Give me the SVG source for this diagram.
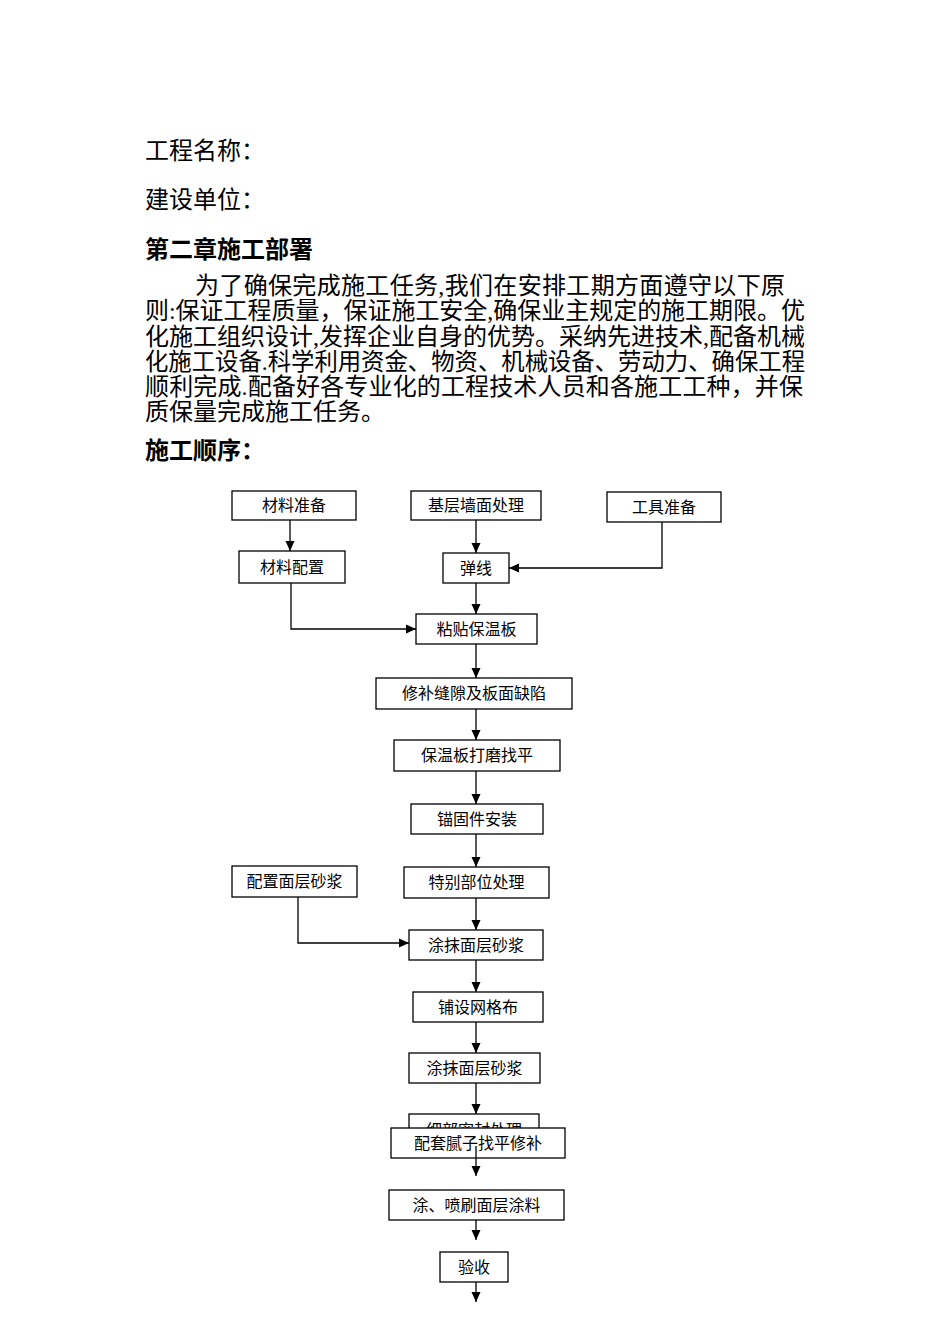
<svg xmlns="http://www.w3.org/2000/svg" width="950" height="1344" viewBox="0 0 950 1344">
<style>
.t{font-family:"Liberation Serif","Noto Sans CJK SC",serif;fill:#000;}
.h{font-size:24px;}
.b{font-size:24px;font-weight:bold;}
.n rect{fill:#fff;stroke:#000;stroke-width:1.3;}
.n text{font-family:"Liberation Serif","Noto Sans CJK SC",serif;font-size:16px;fill:#000;text-anchor:middle;}
.c path{fill:none;stroke:#000;stroke-width:1.3;marker-end:url(#ah);}
</style>
<defs>
<marker id="ah" markerUnits="userSpaceOnUse" markerWidth="11" markerHeight="10" refX="10" refY="5" orient="auto">
<path d="M0,0.5 L10,5 L0,9.5 z" fill="#000"/>
</marker>
<clipPath id="behindClip"><rect x="400" y="1110" width="150" height="18"/></clipPath>
</defs>
<rect width="950" height="1344" fill="#fff"/>
<g id="header">
<text class="t h" x="145" y="159">工程名称：</text>
<text class="t h" x="145" y="208">建设单位：</text>
<text class="t b" x="145" y="258">第二章施工部署</text>
<text class="t h" x="195" y="294" textLength="590" lengthAdjust="spacing">为了确保完成施工任务,我们在安排工期方面遵守以下原</text>
<text class="t h" x="145" y="319" textLength="660" lengthAdjust="spacing">则:保证工程质量，保证施工安全,确保业主规定的施工期限。优</text>
<text class="t h" x="145" y="345" textLength="660" lengthAdjust="spacing">化施工组织设计,发挥企业自身的优势。采纳先进技术,配备机械</text>
<text class="t h" x="145" y="370" textLength="660" lengthAdjust="spacingAndGlyphs">化施工设备.科学利用资金、物资、机械设备、劳动力、确保工程</text>
<text class="t h" x="145" y="395" textLength="658" lengthAdjust="spacing">顺利完成.配备好各专业化的工程技术人员和各施工工种，并保</text>
<text class="t h" x="145" y="420">质保量完成施工任务。</text>
<text class="t b" x="145" y="459">施工顺序：</text>
</g>
<g id="nodes" class="n">
<g id="n1"><rect x="232" y="491" width="124" height="29"/><text x="294" y="511">材料准备</text></g>
<g id="n2"><rect x="411" y="491" width="130" height="29"/><text x="476" y="511">基层墙面处理</text></g>
<g id="n3"><rect x="607" y="492" width="114" height="30"/><text x="664" y="513">工具准备</text></g>
<g id="n4"><rect x="239" y="551" width="106" height="32"/><text x="292" y="573">材料配置</text></g>
<g id="n5"><rect x="443" y="553" width="66" height="30"/><text x="476" y="574">弹线</text></g>
<g id="n6"><rect x="416" y="614" width="121" height="30"/><text x="476.5" y="635">粘贴保温板</text></g>
<g id="n7"><rect x="376" y="678" width="196" height="31"/><text x="474" y="699">修补缝隙及板面缺陷</text></g>
<g id="n8"><rect x="394" y="740" width="166" height="31"/><text x="477" y="761">保温板打磨找平</text></g>
<g id="n9"><rect x="411" y="804" width="132" height="30"/><text x="477" y="825">锚固件安装</text></g>
<g id="n10"><rect x="404" y="867" width="145" height="31"/><text x="476.5" y="888">特别部位处理</text></g>
<g id="n11"><rect x="232" y="866" width="125" height="31"/><text x="294.5" y="887">配置面层砂浆</text></g>
<g id="n12"><rect x="409" y="930" width="134" height="30"/><text x="476" y="951">涂抹面层砂浆</text></g>
<g id="n13"><rect x="413" y="992" width="130" height="30"/><text x="478" y="1013">铺设网格布</text></g>
<g id="n14"><rect x="409" y="1053" width="131" height="30"/><text x="474.5" y="1074">涂抹面层砂浆</text></g>
<g id="n15"><rect x="409" y="1114" width="130" height="31"/><text x="474" y="1135.5" clip-path="url(#behindClip)">细部密封处理</text></g>
<g id="n16"><rect x="391" y="1128" width="174" height="30"/><text x="478" y="1149">配套腻子找平修补</text></g>
<g id="n17"><rect x="389" y="1190" width="175" height="30"/><text x="476.5" y="1211">涂、喷刷面层涂料</text></g>
<g id="n18"><rect x="440" y="1252" width="68" height="30"/><text x="474" y="1273">验收</text></g>
</g>
<g id="connectors" class="c">
<path d="M290,520 V551"/>
<path d="M476,520 V553"/>
<path d="M662,522 V568 H509"/>
<path d="M291,583 V629 H416"/>
<path d="M476,583 V614"/>
<path d="M476,644 V678"/>
<path d="M476,709 V740"/>
<path d="M476,771 V804"/>
<path d="M476,834 V867"/>
<path d="M298,897 V943 H409"/>
<path d="M476,898 V930"/>
<path d="M476,960 V992"/>
<path d="M476,1022 V1053"/>
<path d="M476,1083 V1114"/>
<path d="M476,1146 V1176"/>
<path d="M476,1220 V1240"/>
<path d="M476,1282 V1302"/>
</g>
</svg>
